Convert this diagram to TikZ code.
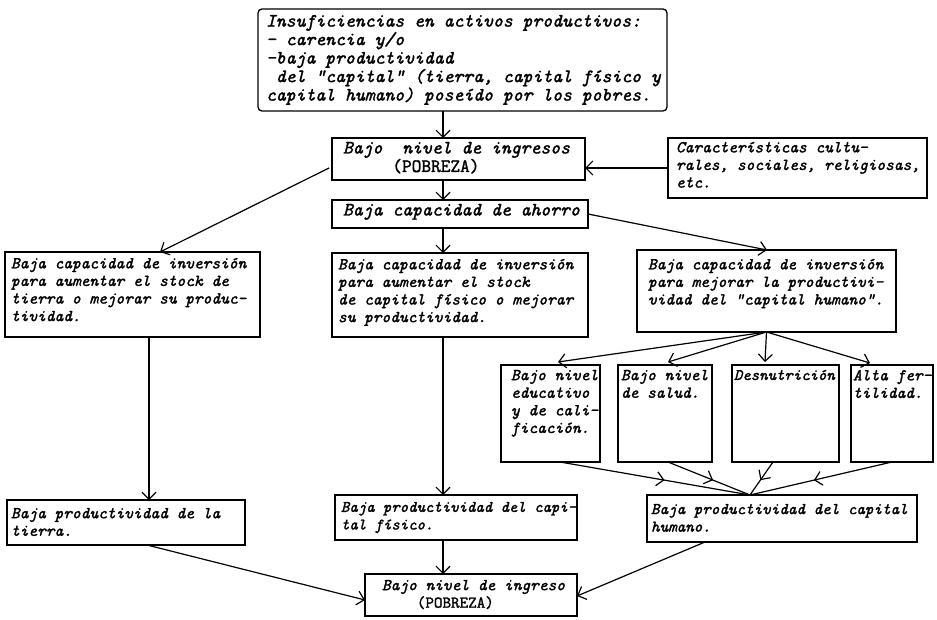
\documentclass[tikz,border=0pt]{standalone}
\usepackage{fontspec}
\newfontfamily\tw{Latin Modern Mono}[FakeBold=1.6]
\usetikzlibrary{arrows.meta,decorations.markings,calc}
\newcommand\fs{\tw\itshape\fontsize{16.6}{17.6}\selectfont}
\newcommand\fm{\tw\itshape\fontsize{16}{17.6}\selectfont}
\newcommand\fh{\tw\itshape\fontsize{16.3}{17.6}\selectfont}
\newcommand\fb{\tw\itshape\fontsize{18.8}{18.5}\selectfont}
\newcommand\bx[6][]{\node[bxs,#1,minimum width={#5pt-#3pt},minimum height={#6pt-#4pt}] (#2) at (#3,#4) {};}
\newcommand\tx[5][\fs]{\node[txt,font=#1] (#2t) at ([shift={(#3,#4)}]#2.north west) {#5};}
\begin{document}
\begin{tikzpicture}[x=1pt,y=-1pt,
  bxs/.style={draw,line width=1.3pt,inner sep=0pt,outer sep=0pt,anchor=north west},
  txt/.style={inner sep=0pt,outer sep=0pt,anchor=north west,align=left},
  arr/.style={line width=1.2pt,-{Straight Barb[length=7pt,width=14pt]}},
  midarr/.style={line width=1.2pt,postaction=decorate,
    decoration={markings,mark=at position #1 with {\arrow{Straight Barb[length=7pt,width=14pt]}}}}]
\useasboundingbox (0,0) rectangle (937,620);
\fill[white] (0,0) rectangle (937,620);
% boxes
\bx[rounded corners=4pt]{top}{258}{9}{667}{111}
\bx{B1}{332}{138}{585}{180}
\bx{Car}{668}{138}{927}{198}
\bx{Ah}{332}{200}{588}{228}
\bx{L1}{5}{252}{260}{337}
\bx{M1}{332}{253}{588}{337}
\bx{R1}{637}{250}{896}{332}
\bx{S1}{501}{365}{600}{462}
\bx{S2}{618}{365}{712}{462}
\bx{S3}{732}{365}{839}{462}
\bx{S4}{851}{365}{933}{462}
\bx{L2}{7}{500}{245}{545}
\bx{M2}{335}{495}{577}{540}
\bx{H2}{647}{495}{917}{542}
\bx{B2}{365}{574}{577}{616}
% texts
\tx[\fb]{top}{8}{6}{Insuficiencias en activos productivos:\\- carencia y/o\\-baja productividad\\\ del "capital" (tierra, capital físico y\\capital humano) poseído por los pobres.}
\tx[\fb]{B1}{11}{4}{Bajo\ \ nivel de ingresos\\\ \ \ \ \ {\upshape(POBREZA)}}
\tx{Car}{8}{4}{Características cultu-\\rales, sociales, religiosas,\\etc.}
\tx[\fb]{Ah}{11}{4}{Baja capacidad de ahorro}
\tx{L1}{6}{6}{Baja capacidad de inversión\\para aumentar el stock de\\tierra o mejorar su produc-\\tividad.}
\tx{M1}{6}{6}{Baja capacidad de inversión\\para aumentar el stock\\de capital físico o mejorar\\su productividad.}
\tx{R1}{11}{9}{Baja capacidad de inversión\\para mejorar la productivi-\\vidad del "capital humano".}
\tx{S1}{10}{5}{Bajo nivel\\educativo\\y de cali-\\ficación.}
\tx{S2}{3}{5}{Bajo nivel\\de salud.}
\tx[\fm]{S3}{2}{5}{Desnutrición}
\tx{S4}{2}{5}{Alta fer-\\tilidad.}
\tx{L2}{4}{8}{Baja productividad de la\\tierra.}
\tx[\fm]{M2}{6}{7}{Baja productividad del capi-\\tal físico.}
\tx[\fh]{H2}{4}{9}{Baja productividad del capital\\humano.}
\tx{B2}{17}{6}{Bajo nivel de ingreso\\\ \ \ \ {\upshape(POBREZA)}}
% connectors
\coordinate (cx) at (443,0);
\coordinate (lx) at (149,0);
\draw[arr] (top.south -| cx) -- (B1.north -| cx);
\draw[arr] (B1.south -| cx) -- (Ah.north -| cx);
\draw[arr] (Ah.south -| cx) -- (M1.north -| cx);
\draw[arr] (M1.south -| cx) -- (M2.north -| cx);
\draw[arr] (M2.south -| cx) -- (B2.north -| cx);
\draw[arr] (L1.south -| lx) -- (L2.north -| lx);
\draw[arr] (Car.west) -- (Car.west -| B1.east);
\draw[arr] ([shift={(-3,-12)}]B1.south west) -- ([shift={(155,0)}]L1.north west);
\draw[arr] (Ah.east) -- ([shift={(130,0)}]R1.north west);
\draw[arr] (R1.south) -- ([shift={(57,-3)}]S1.north west);
\draw[arr] (R1.south) -- ([shift={(50,-3)}]S2.north west);
\draw[arr] (R1.south) -- ([shift={(33,-3)}]S3.north west);
\draw[arr] (R1.south) -- ([shift={(19,-2)}]S4.north west);
\coordinate (cv) at ([shift={(103,0)}]H2.north west);
\draw[midarr=0.55] ([shift={(59,0)}]S1.south west) -- (cv);
\draw[midarr=0.55] ([shift={(50,0)}]S2.south west) -- (cv);
\draw[midarr=0.55] ([shift={(41,0)}]S3.south west) -- (cv);
\draw[midarr=0.55] ([shift={(41,0)}]S4.south west) -- (cv);
\draw[arr] ([shift={(140,0)}]L2.south west) -- ([shift={(0,-16)}]B2.south west);
\draw[arr] ([shift={(58,0)}]H2.south west) -- ([shift={(0,-20)}]B2.south east);
\end{tikzpicture}
\end{document}
